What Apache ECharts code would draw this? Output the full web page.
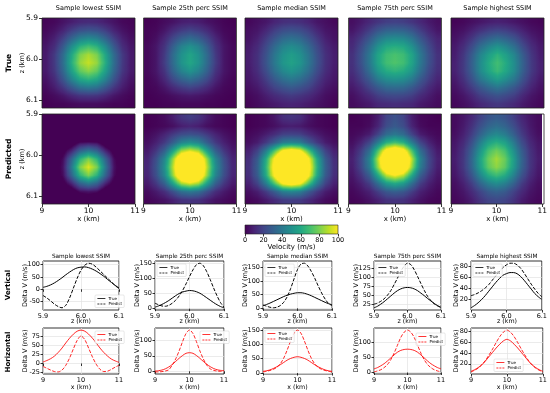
<!DOCTYPE html>
<html><head><meta charset="utf-8">
<script src="https://cdn.jsdelivr.net/npm/echarts@6/dist/echarts.min.js"></script>
<style>html,body{margin:0;padding:0;background:#fff}#c{width:550px;height:393px}</style>
</head><body><div id="c"></div>
<script>
// ---------------- DATA ----------------
const sampleTitles = ['Sample lowest SSIM', 'Sample 25th perc SSIM', 'Sample median SSIM', 'Sample 75th perc SSIM', 'Sample highest SSIM'];
// heatmap cell centres (x in km, z in km)
const cellX = [9.091, 9.273, 9.455, 9.636, 9.818, 10.0, 10.182, 10.364, 10.545, 10.727, 10.909];
const cellZ = [5.91, 5.93, 5.95, 5.97, 5.99, 6.01, 6.03, 6.05, 6.07, 6.09, 6.11];
const heatXTicks = [9, 10, 11];
const heatZTicks = [5.9, 6.0, 6.1];
const colorbarTicks = [0, 20, 40, 60, 80, 100];

const trueMap1 = [
 [1, 2, 5, 8, 11, 12, 11, 8, 5, 2, 1],
 [2, 5, 10, 18, 24, 26, 24, 18, 10, 5, 2],
 [4, 9, 19, 32, 43, 47, 43, 32, 19, 9, 4],
 [6, 13, 28, 48, 64, 70, 64, 48, 28, 13, 6],
 [7, 17, 35, 59, 80, 87, 80, 59, 35, 17, 7],
 [7, 17, 36, 62, 84, 91, 84, 62, 36, 17, 7],
 [7, 16, 33, 56, 75, 82, 75, 56, 33, 16, 7],
 [5, 12, 26, 44, 59, 64, 59, 44, 26, 12, 5],
 [3, 8, 16, 27, 37, 40, 37, 27, 16, 8, 3],
 [1, 3, 6, 11, 15, 16, 15, 11, 6, 3, 1],
 [0, 1, 1, 2, 3, 3, 3, 2, 1, 1, 0]];
const trueMap2 = [
 [0, 1, 3, 5, 8, 9, 8, 5, 3, 1, 0],
 [1, 2, 6, 12, 17, 20, 17, 12, 6, 2, 1],
 [1, 4, 11, 21, 30, 35, 30, 21, 11, 4, 1],
 [2, 6, 15, 30, 44, 50, 44, 30, 15, 6, 2],
 [2, 6, 17, 35, 50, 58, 50, 35, 17, 6, 2],
 [2, 6, 18, 35, 51, 59, 51, 35, 18, 6, 2],
 [2, 6, 15, 31, 44, 51, 44, 31, 15, 6, 2],
 [1, 4, 11, 22, 31, 36, 31, 22, 11, 4, 1],
 [1, 2, 6, 12, 17, 20, 17, 12, 6, 2, 1],
 [0, 1, 2, 4, 6, 7, 6, 4, 2, 1, 0],
 [0, 0, 1, 1, 2, 2, 2, 1, 1, 0, 0]];
const trueMap3 = [
 [2, 4, 6, 10, 13, 14, 13, 10, 6, 4, 2],
 [4, 6, 11, 18, 23, 25, 23, 18, 11, 6, 4],
 [5, 9, 17, 26, 34, 37, 34, 26, 17, 9, 5],
 [7, 12, 22, 34, 44, 48, 44, 34, 22, 12, 7],
 [8, 14, 25, 39, 50, 55, 50, 39, 25, 14, 8],
 [8, 14, 26, 40, 52, 57, 52, 40, 26, 14, 8],
 [7, 13, 23, 36, 46, 51, 46, 36, 23, 13, 7],
 [6, 10, 18, 28, 36, 40, 36, 28, 18, 10, 6],
 [4, 7, 13, 20, 25, 28, 25, 20, 13, 7, 4],
 [2, 4, 8, 12, 15, 17, 15, 12, 8, 4, 2],
 [1, 3, 5, 7, 9, 10, 9, 7, 5, 3, 1]];
const trueMap4 = [
 [4, 7, 11, 15, 18, 19, 18, 15, 11, 7, 4],
 [6, 11, 18, 26, 31, 32, 31, 26, 18, 11, 6],
 [10, 17, 27, 39, 46, 48, 46, 39, 27, 17, 10],
 [12, 22, 35, 50, 60, 62, 60, 50, 35, 22, 12],
 [14, 25, 40, 58, 68, 71, 68, 58, 40, 25, 14],
 [14, 25, 40, 58, 69, 72, 69, 58, 40, 25, 14],
 [13, 22, 36, 52, 61, 64, 61, 52, 36, 22, 13],
 [10, 18, 28, 41, 48, 50, 48, 41, 28, 18, 10],
 [7, 12, 20, 28, 34, 35, 34, 28, 20, 12, 7],
 [4, 8, 12, 18, 21, 22, 21, 18, 12, 8, 4],
 [3, 5, 7, 11, 12, 13, 12, 11, 7, 5, 3]];
const trueMap5 = [
 [1, 2, 4, 6, 8, 9, 8, 6, 4, 2, 1],
 [3, 5, 9, 14, 18, 20, 18, 14, 9, 5, 3],
 [5, 9, 16, 25, 31, 35, 31, 25, 16, 9, 5],
 [7, 13, 23, 36, 45, 51, 45, 36, 23, 13, 7],
 [8, 16, 29, 45, 56, 64, 56, 45, 29, 16, 8],
 [9, 17, 31, 48, 61, 69, 61, 48, 31, 17, 9],
 [9, 17, 30, 47, 59, 67, 59, 47, 30, 17, 9],
 [7, 14, 25, 39, 48, 55, 48, 39, 25, 14, 7],
 [5, 10, 18, 27, 34, 39, 34, 27, 18, 10, 5],
 [3, 6, 11, 18, 22, 25, 22, 18, 11, 6, 3],
 [2, 4, 7, 11, 14, 16, 14, 11, 7, 4, 2]];

const predMap1 = [
 [-5, -8, -12, -18, -28, -35, -28, -18, -12, -8, -5],
 [-8, -12, -20, -35, -50, -60, -50, -35, -20, -12, -8],
 [-10, -15, -25, -45, -65, -75, -65, -45, -25, -15, -10],
 [-8, -12, -15, -10, 3, 5, 3, -10, -15, -12, -8],
 [-5, -10, -5, 10, 31, 40, 31, 10, -5, -10, -5],
 [-5, -8, 3, 32, 64, 80, 64, 32, 3, -8, -5],
 [-5, -8, 5, 40, 80, 95, 80, 40, 5, -8, -5],
 [-5, -8, 3, 32, 64, 80, 64, 32, 3, -8, -5],
 [-5, -10, -5, 10, 31, 40, 31, 10, -5, -10, -5],
 [-8, -12, -15, -10, 3, 5, 3, -10, -15, -12, -8],
 [-10, -15, -20, -20, -15, -10, -15, -20, -20, -15, -10]];
const predMap2 = [
 [0, 1, 3, 8, 15, 18, 15, 8, 3, 1, 0],
 [0, 1, 2, 4, 8, 10, 8, 4, 2, 1, 0],
 [2, 5, 10, 17, 23, 25, 23, 17, 10, 5, 2],
 [4, 9, 17, 30, 45, 50, 45, 30, 17, 9, 4],
 [7, 16, 31, 57, 86, 95, 86, 57, 31, 16, 7],
 [10, 24, 46, 84, 126, 140, 126, 84, 46, 24, 10],
 [11, 26, 50, 90, 135, 150, 135, 90, 50, 26, 11],
 [10, 24, 46, 84, 126, 140, 126, 84, 46, 24, 10],
 [7, 16, 31, 57, 86, 95, 86, 57, 31, 16, 7],
 [3, 7, 13, 24, 36, 40, 36, 24, 13, 7, 3],
 [1, 3, 5, 9, 14, 15, 14, 9, 5, 3, 1]];
const predMap3 = [
 [0, 1, 2, 6, 13, 15, 13, 6, 2, 1, 0],
 [0, 1, 2, 4, 7, 8, 7, 4, 2, 1, 0],
 [2, 4, 8, 13, 19, 20, 19, 13, 8, 4, 2],
 [4, 8, 17, 29, 42, 45, 42, 29, 17, 8, 4],
 [9, 20, 42, 72, 102, 110, 102, 72, 42, 20, 9],
 [13, 29, 61, 104, 149, 160, 149, 104, 61, 29, 13],
 [14, 31, 65, 110, 158, 170, 158, 110, 65, 31, 14],
 [13, 29, 61, 104, 149, 160, 149, 104, 61, 29, 13],
 [9, 20, 42, 72, 102, 110, 102, 72, 42, 20, 9],
 [4, 8, 17, 29, 42, 45, 42, 29, 17, 8, 4],
 [1, 3, 7, 12, 17, 18, 17, 12, 7, 3, 1]];
const predMap4 = [
 [0, 1, 2, 8, 20, 25, 20, 8, 2, 1, 0],
 [1, 1, 3, 10, 23, 28, 23, 10, 3, 1, 1],
 [2, 4, 8, 20, 35, 40, 35, 20, 8, 4, 2],
 [4, 10, 21, 42, 63, 70, 63, 42, 21, 10, 4],
 [7, 18, 36, 72, 108, 120, 108, 72, 36, 18, 7],
 [9, 22, 45, 90, 135, 150, 135, 90, 45, 22, 9],
 [8, 21, 42, 84, 126, 140, 126, 84, 42, 21, 8],
 [6, 15, 30, 60, 90, 100, 90, 60, 30, 15, 6],
 [4, 9, 18, 36, 54, 60, 54, 36, 18, 9, 4],
 [2, 5, 9, 18, 27, 30, 27, 18, 9, 5, 2],
 [1, 2, 5, 9, 14, 15, 14, 9, 5, 2, 1]];
const predMap5 = [
 [3, 6, 11, 19, 26, 29, 26, 19, 11, 6, 3],
 [3, 7, 14, 24, 32, 36, 32, 24, 14, 7, 3],
 [4, 9, 18, 31, 42, 47, 42, 31, 18, 9, 4],
 [6, 12, 24, 42, 57, 63, 57, 42, 24, 12, 6],
 [7, 15, 30, 51, 70, 78, 70, 51, 30, 15, 7],
 [8, 16, 33, 57, 77, 86, 77, 57, 33, 16, 8],
 [7, 16, 32, 55, 75, 83, 75, 55, 32, 16, 7],
 [6, 13, 26, 45, 61, 68, 61, 45, 26, 13, 6],
 [4, 9, 18, 32, 43, 48, 43, 32, 18, 9, 4],
 [3, 6, 12, 20, 28, 31, 28, 20, 12, 6, 3],
 [2, 4, 8, 15, 20, 22, 20, 15, 8, 4, 2]];

// profiles
const zProfile = [5.90, 5.91, 5.92, 5.93, 5.94, 5.95, 5.96, 5.97, 5.98, 5.99, 6.00, 6.01, 6.02, 6.03, 6.04, 6.05, 6.06, 6.07, 6.08, 6.09, 6.10];
const xProfile = [9.0, 9.1, 9.2, 9.3, 9.4, 9.5, 9.6, 9.7, 9.8, 9.9, 10.0, 10.1, 10.2, 10.3, 10.4, 10.5, 10.6, 10.7, 10.8, 10.9, 11.0];

const vertTrue1 = [8, 12, 18, 26, 36, 47, 59, 70, 80, 87, 90, 91, 88, 82, 74, 64, 53, 40, 28, 16, 6];
const vertPred1 = [-25, -35, -47, -60, -70, -75, -65, -35, 5, 45, 78, 98, 106, 102, 90, 75, 60, 45, 30, 15, 3];
const horTrue1 = [4, 8, 13, 20, 30, 42, 56, 69, 80, 88, 91, 88, 80, 69, 56, 42, 30, 20, 12, 7, 3];
const horPred1 = [-8, -13, -18, -22, -23, -18, -5, 15, 40, 63, 75, 65, 42, 18, -2, -16, -22, -21, -16, -10, -5];

const vertTrue2 = [5, 9, 14, 20, 27, 35, 43, 50, 55, 58, 60, 59, 56, 51, 44, 36, 28, 20, 13, 7, 3];
const vertPred2 = [18, 13, 9, 8, 11, 18, 28, 42, 60, 82, 106, 128, 145, 150, 142, 122, 96, 68, 42, 20, 5];
const horTrue2 = [1, 2, 4, 8, 14, 22, 32, 42, 51, 58, 60, 58, 51, 42, 32, 23, 15, 9, 5, 3, 2];
const horPred2 = [-2, -2, -1, 1, 5, 20, 40, 66, 96, 122, 133, 122, 96, 66, 40, 20, 8, 3, 1, 0, 0];

const vertTrue3 = [10, 14, 19, 25, 31, 37, 43, 48, 52, 55, 57, 57, 55, 51, 46, 40, 34, 28, 22, 17, 13];
const vertPred3 = [12, 8, 4, 2, 4, 10, 22, 42, 72, 108, 142, 162, 165, 155, 135, 110, 82, 56, 34, 18, 10];
const horTrue3 = [6, 8, 11, 16, 22, 29, 37, 45, 51, 55, 57, 55, 51, 45, 37, 29, 22, 16, 11, 8, 6];
const horPred3 = [4, 6, 9, 13, 20, 32, 52, 80, 112, 139, 150, 139, 112, 80, 52, 32, 20, 13, 9, 6, 4];

const vertTrue4 = [15, 19, 25, 32, 40, 48, 56, 63, 68, 71, 72, 71, 68, 63, 56, 49, 41, 34, 27, 21, 16];
const vertPred4 = [25, 28, 33, 40, 50, 63, 80, 98, 117, 132, 140, 136, 122, 103, 83, 64, 47, 35, 26, 20, 16];
const horTrue4 = [12, 16, 22, 29, 38, 48, 58, 67, 73, 76, 77, 76, 73, 67, 58, 48, 38, 29, 22, 16, 12];
const horPred4 = [2, 5, 9, 16, 26, 42, 64, 90, 116, 133, 140, 133, 116, 90, 64, 42, 26, 16, 9, 5, 2];

const vertTrue5 = [5, 9, 14, 20, 27, 35, 43, 51, 58, 64, 67, 69, 69, 67, 62, 55, 47, 39, 31, 25, 20];
const vertPred5 = [27, 29, 32, 36, 41, 47, 55, 63, 71, 78, 83, 86, 86, 83, 77, 68, 58, 48, 39, 31, 25];
const horTrue5 = [6, 9, 13, 18, 25, 33, 41, 49, 56, 62, 65, 62, 56, 49, 41, 33, 25, 18, 13, 9, 6];
const horPred5 = [5, 8, 12, 18, 26, 36, 47, 59, 70, 78, 82, 78, 70, 59, 47, 36, 26, 18, 12, 8, 5];

const zTicks = [5.9, 6.0, 6.1];
const xTicks = [9, 10, 11];
const vTicks1 = [-50, 0, 50, 100];
const hTicks1 = [-25, 0, 25, 50, 75];
const vTicks2 = [0, 50, 100, 150];
const hTicks2 = [0, 50, 100];
const vTicks3 = [0, 50, 100, 150];
const hTicks3 = [0, 50, 100, 150];
const vTicks4 = [25, 50, 75, 100, 125];
const hTicks4 = [0, 50, 100];
const vTicks5 = [20, 40, 60, 80];
const hTicks5 = [20, 40, 60, 80];

// ---------------- BUILD ----------------
const FONT = 'DejaVu Sans';
const viridis = ['#440154','#482475','#414487','#355f8d','#2a788e','#21918c','#22a884','#44bf70','#7ad151','#bddf26','#fde725'];
const viridisRGB = viridis.map(h => [parseInt(h.slice(1, 3), 16), parseInt(h.slice(3, 5), 16), parseInt(h.slice(5, 7), 16)]);
const vMin = 0, vMax = 100;
function viridisColor(v) {
  const t = Math.max(0, Math.min(1, (v - vMin) / (vMax - vMin))) * (viridisRGB.length - 1);
  const k = Math.min(viridisRGB.length - 2, Math.floor(t)), f = t - k;
  const a = viridisRGB[k], b = viridisRGB[k + 1];
  return 'rgb(' + Math.round(a[0] + (b[0] - a[0]) * f) + ',' + Math.round(a[1] + (b[1] - a[1]) * f) + ',' + Math.round(a[2] + (b[2] - a[2]) * f) + ')';
}
const cellW = 2 / cellX.length, cellH = 0.02;

const heatMaps = [[trueMap1, trueMap2, trueMap3, trueMap4, trueMap5], [predMap1, predMap2, predMap3, predMap4, predMap5]];
const profiles = [
  {vt: vertTrue1, vp: vertPred1, ht: horTrue1, hp: horPred1, vT: vTicks1, hT: hTicks1},
  {vt: vertTrue2, vp: vertPred2, ht: horTrue2, hp: horPred2, vT: vTicks2, hT: hTicks2},
  {vt: vertTrue3, vp: vertPred3, ht: horTrue3, hp: horPred3, vT: vTicks3, hT: hTicks3},
  {vt: vertTrue4, vp: vertPred4, ht: horTrue4, hp: horPred4, vT: vTicks4, hT: hTicks4},
  {vt: vertTrue5, vp: vertPred5, ht: horTrue5, hp: horPred5, vT: vTicks5, hT: hTicks5}];

// layout
const heatLeft = [42, 143.5, 245, 348.5, 451], heatTop = [18, 114], heatW = 93, heatH = 90;
const lineLeft = [43, 155, 263, 374, 471], lineRight = [119, 224, 332, 441, 543];
const rowTop = [261, 328], rowH = [49, 46];
const legendPos = [[[95, 295], [95, 331]], [[157, 264], [200, 331]], [[265, 264], [265, 330]], [[376, 264], [416, 333]], [[473, 264], [494, 359]]];

const grids = [], xAxes = [], yAxes = [], series = [], graphics = [], legends = [];

function txt(text, x, y, size, opts) {
  opts = opts || {};
  graphics.push({type: 'text', x: x, y: y, rotation: opts.rot || 0, z: 100, silent: true,
    style: {text: text, fontSize: size, fontFamily: FONT, fontWeight: opts.bold ? 'bold' : 'normal', fill: '#000', align: 'center', verticalAlign: 'middle'}});
}

// each cell is shaded like an image displayed with bilinear smoothing between neighbouring cell values
function makeCellRenderer(map) {
  const nx = cellX.length, nz = cellZ.length;
  const val = (i, j) => map[Math.max(0, Math.min(nz - 1, j))][Math.max(0, Math.min(nx - 1, i))];
  const NQ = 6;
  return function (params, api) {
    const idx = params.dataIndex, i = idx % nx, j = Math.floor(idx / nx);
    const x = api.value(0), z = api.value(1);
    const p0 = api.coord([x - cellW / 2, z - cellH / 2]);
    const p1 = api.coord([x + cellW / 2, z + cellH / 2]);
    const left = Math.min(p0[0], p1[0]), right = Math.max(p0[0], p1[0]);
    const top = Math.min(p0[1], p1[1]), bottom = Math.max(p0[1], p1[1]);
    const L = Math.round(left), R = Math.round(right), T = Math.round(top), B = Math.round(bottom);
    const cxp = (left + right) / 2, cyp = (top + bottom) / 2;
    const children = [];
    for (let y = T; y < B; y++) {
      const dv = Math.max(-0.5, Math.min(0.5, (y + 0.5 - cyp) / (bottom - top)));
      const jn = dv < 0 ? j - 1 : j + 1, w = Math.abs(dv);
      const colVal = k => val(k, j) * (1 - w) + val(k, jn) * w;
      const vl = colVal(i - 1), vc = colVal(i), vr = colVal(i + 1);
      const stops = [];
      for (let q = 0; q <= NQ; q++) {
        const u = q / NQ;
        const du = Math.max(-0.5, Math.min(0.5, (L + u * (R - L) - cxp) / (right - left)));
        const v = du < 0 ? vc + (vl - vc) * (-du) : vc + (vr - vc) * du;
        stops.push({offset: u, color: viridisColor(v)});
      }
      children.push({type: 'rect', shape: {x: L, y: y, width: R - L, height: 1},
        style: {fill: new echarts.graphic.LinearGradient(0, 0, 1, 0, stops)}});
    }
    return {type: 'group', children: children};
  };
}

for (let r = 0; r < 2; r++) {
  for (let c = 0; c < 5; c++) {
    const gi = grids.length;
    grids.push({left: heatLeft[c], top: heatTop[r], width: heatW, height: heatH});
    xAxes.push({type: 'value', gridIndex: gi, min: 9, max: 11, splitLine: {show: false}, axisLine: {show: false},
      axisTick: {show: r === 1, length: 3, lineStyle: {color: '#000', width: 0.8}, customValues: heatXTicks},
      axisLabel: {show: r === 1, customValues: heatXTicks, fontSize: 7.5, fontFamily: FONT, color: '#000', margin: 3}});
    yAxes.push({type: 'value', gridIndex: gi, min: 5.9, max: 6.12, inverse: true, splitLine: {show: false}, axisLine: {show: false},
      axisTick: {show: c === 0, length: 3, lineStyle: {color: '#000', width: 0.8}, customValues: heatZTicks},
      axisLabel: {show: c === 0, customValues: heatZTicks, formatter: v => v.toFixed(1), fontSize: 7.5, fontFamily: FONT, color: '#000', margin: 4}});
    const data = [];
    const m = heatMaps[r][c];
    for (let j = 0; j < cellZ.length; j++) for (let i = 0; i < cellX.length; i++) data.push([cellX[i], cellZ[j], m[j][i]]);
    series.push({type: 'custom', name: (r === 0 ? 'True ' : 'Predicted ') + sampleTitles[c], xAxisIndex: gi, yAxisIndex: gi,
      renderItem: makeCellRenderer(m), data: data, encode: {x: 0, y: 1}, clip: true, silent: true});
    graphics.push({type: 'rect', z: 90, silent: true, shape: {x: heatLeft[c], y: heatTop[r], width: heatW, height: heatH},
      style: {fill: 'none', stroke: '#222', lineWidth: 0.8}});
  }
}
// titles & labels for heatmaps
for (let c = 0; c < 5; c++) {
  txt(sampleTitles[c], heatLeft[c] + heatW / 2, 8, 6.5);
  txt('x (km)', heatLeft[c] + heatW / 2, 219, 7);
}
txt('True', 9, 63, 7.5, {bold: true, rot: Math.PI / 2});
txt('Predicted', 9, 159, 7.5, {bold: true, rot: Math.PI / 2});
txt('z (km)', 22, 63, 6.5, {rot: Math.PI / 2});
txt('z (km)', 22, 159, 6.5, {rot: Math.PI / 2});

// colorbar
{
  const gi = grids.length;
  grids.push({left: 245, top: 225, width: 93, height: 9});
  xAxes.push({type: 'value', gridIndex: gi, min: vMin, max: vMax, position: 'bottom', splitLine: {show: false}, axisLine: {show: false},
    axisTick: {length: 2.5, lineStyle: {color: '#000', width: 0.8}, customValues: colorbarTicks},
    axisLabel: {customValues: colorbarTicks, fontSize: 6.5, fontFamily: FONT, color: '#000', margin: 2.5}});
  yAxes.push({type: 'value', gridIndex: gi, min: 0, max: 1, show: false});
  graphics.push({type: 'rect', z: 50, silent: true, shape: {x: 245, y: 225, width: 93, height: 9},
    style: {fill: new echarts.graphic.LinearGradient(0, 0, 1, 0, viridis.map((col, k) => ({offset: k / (viridis.length - 1), color: col}))),
      stroke: '#222', lineWidth: 0.6}});
  txt('Velocity (m/s)', 291.5, 247.5, 7);
}

// line plots
const padMin = v => v.min - 0.05 * (v.max - v.min);
const padMax = v => v.max + 0.05 * (v.max - v.min);
for (let r = 0; r < 2; r++) {
  for (let c = 0; c < 5; c++) {
    const gi = grids.length;
    const P = profiles[c];
    const left = lineLeft[c], width = lineRight[c] - lineLeft[c];
    grids.push({left: left, top: rowTop[r], width: width, height: rowH[r], show: true, borderColor: '#000', borderWidth: 0.8, backgroundColor: 'transparent'});
    const xs = r === 0 ? zProfile : xProfile;
    const xt = r === 0 ? zTicks : xTicks;
    const yt = r === 0 ? P.vT : P.hT;
    xAxes.push({type: 'value', gridIndex: gi, min: xs[0], max: xs[xs.length - 1], axisLine: {show: false},
      axisTick: {length: 2.5, lineStyle: {color: '#000', width: 0.8}, customValues: xt},
      axisLabel: {customValues: xt, formatter: r === 0 ? (v => v.toFixed(1)) : (v => String(Math.round(v))), fontSize: 6.5, fontFamily: FONT, color: '#000', margin: 3},
      splitLine: {show: true, lineStyle: {color: '#e3e3e3', width: 0.7}}});
    yAxes.push({type: 'value', gridIndex: gi, min: padMin, max: padMax, axisLine: {show: false},
      axisTick: {length: 2.5, lineStyle: {color: '#000', width: 0.8}, customValues: yt},
      axisLabel: {customValues: yt, fontSize: 6.5, fontFamily: FONT, color: '#000', margin: 3},
      splitLine: {show: true, lineStyle: {color: '#e3e3e3', width: 0.7}}});
    const color = r === 0 ? '#000' : '#ff0000';
    const tv = r === 0 ? P.vt : P.ht, pv = r === 0 ? P.vp : P.hp;
    series.push({type: 'line', name: 'True', xAxisIndex: gi, yAxisIndex: gi, data: xs.map((x, k) => [x, tv[k]]),
      symbol: 'none', smooth: 0.3, silent: true, lineStyle: {color: color, width: 1, opacity: r === 0 ? 1 : 0.85}, itemStyle: {color: color}, z: 3});
    series.push({type: 'line', name: 'Predict', xAxisIndex: gi, yAxisIndex: gi, data: xs.map((x, k) => [x, pv[k]]),
      symbol: 'none', smooth: 0.3, silent: true, lineStyle: {color: color, width: 1, type: [3.5, 1.6], opacity: r === 0 ? 1 : 0.85}, itemStyle: {color: color}, z: 3});
    legends.push({orient: 'vertical', left: legendPos[c][r][0], top: legendPos[c][r][1], itemWidth: 8, itemHeight: 3, itemGap: 1.5,
      padding: [1.5, 2, 1.5, 2], backgroundColor: 'rgba(255,255,255,0.85)', borderColor: '#d0d0d0', borderWidth: 0.5, borderRadius: 1,
      selectedMode: false, textStyle: {fontSize: 4, fontFamily: FONT, color: '#000', padding: [0, 0, 0, -2]},
      data: [{name: 'True', itemStyle: {opacity: 0}, lineStyle: {color: color, type: 'solid', width: 0.8}},
             {name: 'Predict', itemStyle: {opacity: 0}, lineStyle: {color: color, type: [2, 1], width: 0.8}}]});
    const cx = left + width / 2;
    if (r === 0) {
      txt(sampleTitles[c], cx, 256.5, 5.8);
      txt('z (km)', cx, 321, 6.3);
    } else {
      txt('x (km)', cx, 387, 6.3);
    }
    const labelX = c === 4 ? left - 15 : left - 18;
    txt('Delta V (m/s)', labelX, rowTop[r] + rowH[r] / 2, 6.5, {rot: Math.PI / 2});
  }
}
txt('Vertical', 8, 285, 7, {bold: true, rot: Math.PI / 2});
txt('Horizontal', 8, 352, 7, {bold: true, rot: Math.PI / 2});

const chart = echarts.init(document.getElementById('c'), null, {renderer: 'canvas'});
chart.setOption({
  animation: false,
  backgroundColor: '#fff',
  textStyle: {fontFamily: FONT},
  grid: grids, xAxis: xAxes, yAxis: yAxes, series: series, legend: legends,
  graphic: graphics
});
</script></body></html>
